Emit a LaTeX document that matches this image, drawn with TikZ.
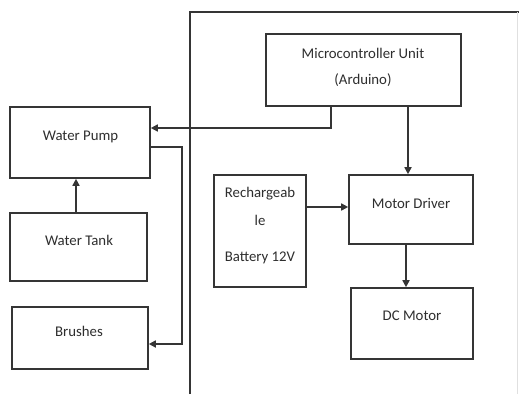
\documentclass[tikz,border=0pt]{standalone}
\usepackage{fontspec}
\setmainfont{Carlito}
\usetikzlibrary{arrows.meta}
\definecolor{ln}{HTML}{353535}
\definecolor{tx}{HTML}{2E2E2E}
\tikzset{
  blk/.style={draw=ln, line width=1.6pt, fill=white, inner sep=0pt},
  lbl/.style={text=tx, font=\fontsize{14.8}{16}\selectfont, inner sep=0pt, anchor=center},
  conn/.style={draw=ln, line width=1.6pt},
  arr/.style={conn, -{Triangle[length=7pt,width=7pt]}}
}
\begin{document}
\begin{tikzpicture}[x=1pt,y=-1pt]
\useasboundingbox (0,0) rectangle (519,394);
% frame
\coordinate (fbl) at (190,394);
\coordinate (ftl) at (190,12);
\coordinate (ftr) at (519,12);
\draw[conn] (fbl) -- (ftl) -- (ftr);
\coordinate (rt) at (517,12);
\coordinate (rb) at (517,394);
\draw[draw=black!12, line width=0.8pt] (rt) -- (rb);
% boxes
\node[blk, minimum width=140pt, minimum height=71pt] (pump) at (80,142.5) {};
\node[blk, minimum width=137pt, minimum height=68pt] (tank) at (78.5,247) {};
\node[blk, minimum width=136pt, minimum height=62pt] (brush) at (80,338) {};
\node[blk, minimum width=195pt, minimum height=72pt] (mcu) at (363.5,70) {};
\node[blk, minimum width=92pt, minimum height=112pt] (bat) at (260,231) {};
\node[blk, minimum width=124pt, minimum height=69pt] (md) at (411,209.5) {};
\node[blk, minimum width=122pt, minimum height=71pt] (dcm) at (412,323.5) {};
% labels
\node[lbl] (tpump) at (80.5,137) {Water Pump};
\node[lbl] (ttank) at (79,240) {Water Tank};
\node[lbl] (tbrush) at (79,331) {Brushes};
\node[lbl] (tmcu1) at (363,53) {Microcontroller Unit};
\node[lbl] (tmcu2) at (363,80) {(Arduino)};
\node[lbl] (tbat1) at (260,194) {Rechargeab};
\node[lbl] (tbat2) at (260,220) {le};
\node[lbl] (tbat3) at (260,258) {Battery 12V};
\node[lbl] (tmd) at (411,203) {Motor Driver};
\node[lbl] (tdcm) at (412,316) {DC Motor};
% connectors
\draw[arr] (mcu.south -| 331,0) |- (pump.east |- 0,128);
\draw[arr] (mcu.south -| 408,0) -- (md.north -| 408,0);
\draw[arr] (bat.east |- 0,207) -- (md.west |- 0,207);
\draw[arr] (md.south -| 406,0) -- (dcm.north -| 406,0);
\draw[arr] (tank.north -| 76,0) -- (pump.south -| 76,0);
\draw[arr] (pump.east |- 0,147) -| (182,344) -- (brush.east |- 0,344);
\end{tikzpicture}
\end{document}
